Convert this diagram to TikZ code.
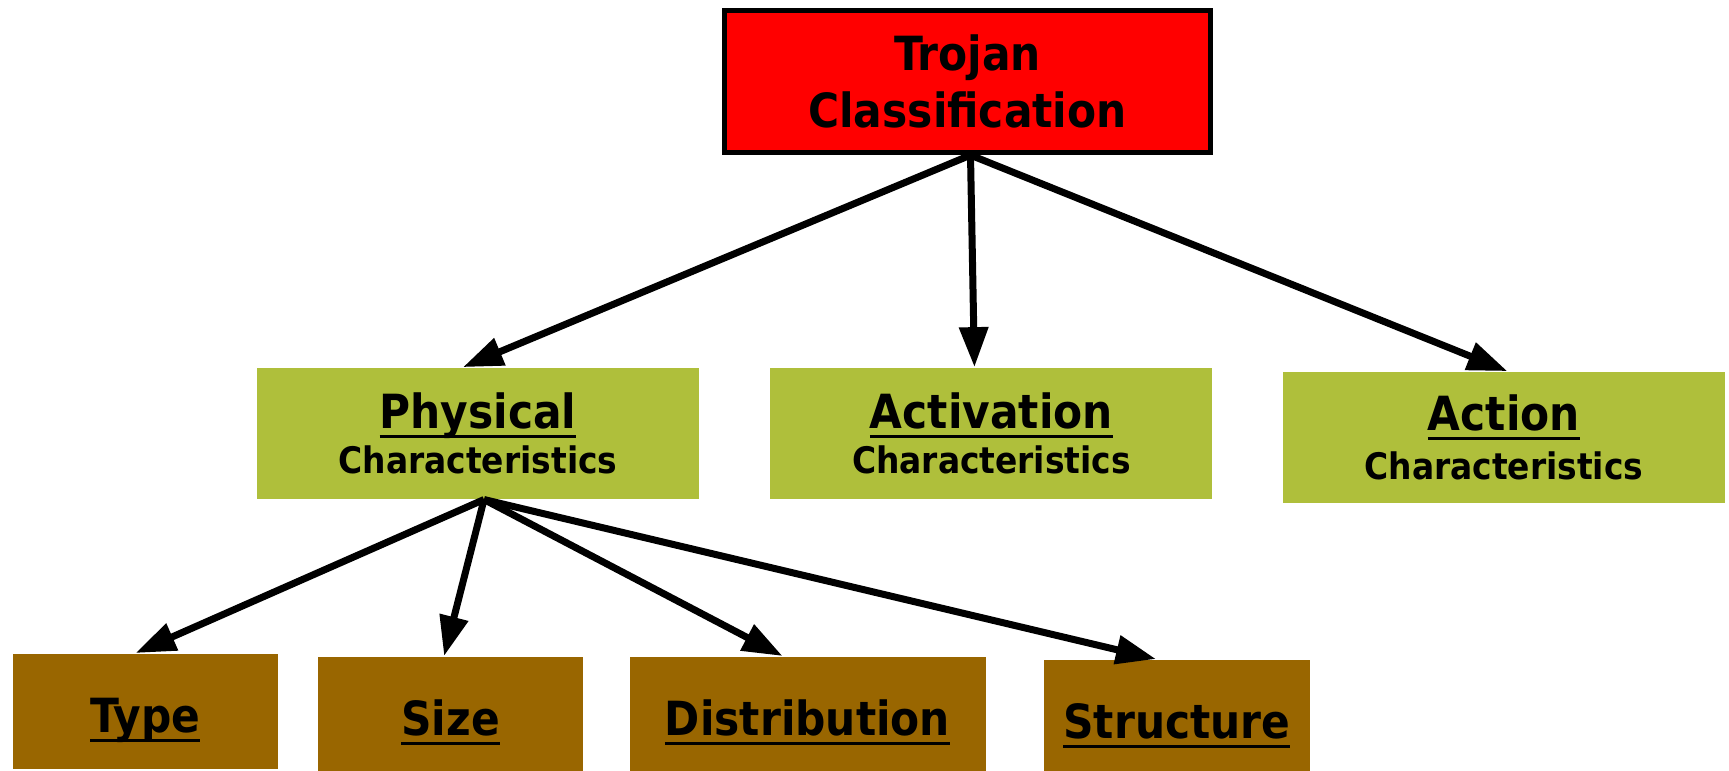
\documentclass[tikz,border=0pt]{standalone}
\usepackage{fontspec}
\setmainfont{DejaVu Sans Condensed}
\usepackage{xcolor}
\usepackage{tikz}
\usetikzlibrary{arrows.meta, positioning}

\definecolor{trojred}{HTML}{FF0000}
\definecolor{charolive}{HTML}{AFBF3B}
\definecolor{physbrown}{HTML}{996600}
\newcommand{\uln}[1]{\setbox0=\hbox{#1}\rlap{\rule[-2.8pt]{\wd0}{0.9pt}}\box0}

\begin{document}
\begin{tikzpicture}[node distance=0.7cm, auto]
				% Styles
				\tikzstyle{root} = [draw, line width=1.5pt, fill=trojred, rectangle, minimum height=1.42cm, minimum width=4.86cm, inner sep=0pt, align=center, font=\bfseries\fontsize{13.4}{16.2}\selectfont]
				\tikzstyle{charbox} = [fill=charolive, rectangle, minimum height=1.31cm, minimum width=4.42cm, inner sep=0pt, align=center, font=\bfseries\fontsize{13.4}{16.2}\selectfont]
				\tikzstyle{physbox} = [fill=physbrown, rectangle, minimum height=1.15cm, minimum width=2.65cm, inner sep=0pt, text height=12pt, text depth=0pt, font=\bfseries\fontsize{13.4}{16.2}\selectfont]
				\tikzstyle{arrow} = [line width=0.7mm, -{Triangle[length=4mm, width=2.8mm]}]

				\useasboundingbox (0,0) rectangle (17.29,-7.71);

				% Nodes
				\node (troj) [root] at (9.675,-0.815) {Trojan\\Classification};
				\node (act) [charbox, below left=2.12cm and 0cm of troj.south east] {\uln{Activation}\\[-3.4pt]{\fontsize{10.4}{12}\selectfont Characteristics}};
				\node (phys) [charbox, left=0.7cm of act] {\uln{Physical}\\[-3.4pt]{\fontsize{10.4}{12}\selectfont Characteristics}};
				\node (action) [charbox, right=0.69cm of act, yshift=-0.04cm] {\raisebox{1.2pt}{\uln{Action}}\\[-3.4pt]{\fontsize{10.4}{12}\selectfont Characteristics}};
				\node (type) [physbox, anchor=north west] at (0.12,-6.53) {\uln{Type}};
				\node (size) [physbox, right=0.39cm of type, yshift=-0.03cm] {\uln{Size}};
				\node (dist) [physbox, minimum width=3.56cm, right=0.45cm of size] {\uln{Distribution}};
				\node (struct) [physbox, minimum width=2.66cm, right=0.57cm of dist, yshift=-0.03cm] {\uln{Structure}};

				% Connections
				\draw [arrow] ([xshift=0.3mm]troj.south) -- ([xshift=-1.5mm]phys.north);
				\draw [arrow] ([xshift=0.3mm]troj.south) -- ([xshift=-1.7mm]act.north);
				\draw [arrow] ([xshift=0.3mm]troj.south) -- ([xshift=0.35mm]action.north);
				\draw [arrow] ([xshift=0.6mm]phys.south) -- ([xshift=-0.95mm]type.north);
				\draw [arrow] ([xshift=0.6mm]phys.south) -- ([xshift=-0.65mm]size.north);
				\draw [arrow] ([xshift=0.6mm]phys.south) -- ([xshift=-2.5mm]dist.north);
				\draw [arrow] ([xshift=0.6mm]phys.south) -- ([xshift=-2.1mm]struct.north);

			\end{tikzpicture}
\end{document}
